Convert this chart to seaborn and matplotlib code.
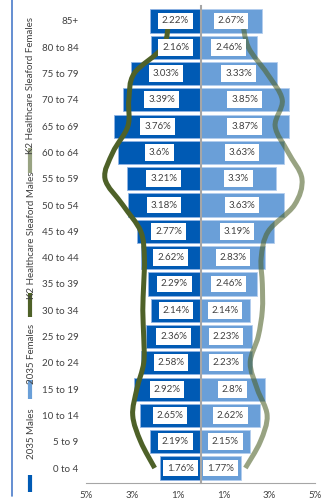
import numpy as np
import pandas as pd
import matplotlib
matplotlib.use("Agg")
import matplotlib.pyplot as plt
from matplotlib.path import Path
from matplotlib.patches import PathPatch
from matplotlib.lines import Line2D
import seaborn as sns

sns.set_style("white")
plt.rcParams["font.family"] = ["Lato", "DejaVu Sans"]

# Age bands, listed from the top of the pyramid down
ages = ["85+", "80 to 84", "75 to 79", "70 to 74", "65 to 69", "60 to 64",
        "55 to 59", "50 to 54", "45 to 49", "40 to 44", "35 to 39", "30 to 34",
        "25 to 29", "20 to 24", "15 to 19", "10 to 14", "5 to 9", "0 to 4"]

# 2035 projected population share (%)
males_2035 = [2.22, 2.16, 3.03, 3.39, 3.76, 3.6, 3.21, 3.18, 2.77,
              2.62, 2.29, 2.14, 2.36, 2.58, 2.92, 2.65, 2.19, 1.76]
females_2035 = [2.67, 2.46, 3.33, 3.85, 3.87, 3.63, 3.3, 3.63, 3.19,
                2.83, 2.46, 2.14, 2.23, 2.23, 2.8, 2.62, 2.15, 1.77]

# K2 Healthcare Sleaford practice list share (%)
k2_males = [1.39, 1.65, 2.9, 3.13, 3.17, 3.83, 4.17, 3.39, 2.61,
            2.45, 2.48, 2.52, 2.48, 2.48, 2.78, 2.96, 2.61, 2.0]
k2_females = [1.83, 2.09, 2.91, 3.57, 3.26, 3.83, 4.43, 4.1, 2.96,
              2.65, 2.7, 2.7, 2.52, 2.17, 2.48, 2.91, 2.61, 1.96]

tick_vals = [-5, -3, -1, 1, 3, 5]
tick_labels = ["5%", "3%", "1%", "1%", "3%", "5%"]

legend_entries = ["2035 Males", "2035 Females",
                  "K2 Healthcare Sleaford Males", "K2 Healthcare Sleaford Females"]

male_col = "#005AB4"
female_col = "#6A9FD8"
k2_col = "#4E6128"
text_col = "#404040"
axis_col = "#A6A6A6"

df = pd.DataFrame({"age": ages,
                   "male": [-v for v in males_2035],
                   "female": females_2035})

W, H = 331, 500
fig = plt.figure(figsize=(W / 100, H / 100), dpi=100)
ax = fig.add_axes([86 / W, 1 - 483 / H, (315 - 86) / W, (483 - 6) / H])

sns.barplot(data=df, x="male", y="age", order=ages, orient="h", color=male_col,
            width=0.88, edgecolor="#8FB3E3", linewidth=0.6, ax=ax, saturation=1)
sns.barplot(data=df, x="female", y="age", order=ages, orient="h", color=female_col,
            width=0.88, edgecolor="#B3CDEE", linewidth=0.6, ax=ax, saturation=1)

# value labels in white boxes at the middle of each bar, above the lines
for i, (m, f) in enumerate(zip(males_2035, females_2035)):
    for x, v in ((-m / 2, m), (f / 2, f)):
        ax.text(x, i, f"{v:g}%", ha="center", va="center", fontsize=7,
                color=text_col, zorder=9,
                bbox=dict(boxstyle="square,pad=0.4", fc="white", ec="none"))


def smooth_path(xs, ys):
    """Catmull-Rom style Bezier path through the given points."""
    pts = np.column_stack([xs, ys]).astype(float)
    ext = np.vstack([pts[0], pts, pts[-1]])
    verts = [pts[0]]
    codes = [Path.MOVETO]
    for i in range(len(pts) - 1):
        p0, p1, p2, p3 = ext[i], ext[i + 1], ext[i + 2], ext[i + 3]
        c1 = p1 + (p2 - p0) / 6.0
        c2 = p2 - (p3 - p1) / 6.0
        verts += [c1, c2, p2]
        codes += [Path.CURVE4] * 3
    return Path(verts, codes)


idx = np.arange(len(ages))
ax.add_patch(PathPatch(smooth_path([-v for v in k2_males], idx), fc="none",
                       ec=k2_col, lw=3.6, capstyle="butt", zorder=6))
ax.add_patch(PathPatch(smooth_path(k2_females, idx), fc="none",
                       ec=k2_col, lw=3.6, alpha=0.58, capstyle="butt", zorder=6))

ax.set_xlim(-5, 5)
ax.set_ylim(len(ages) - 1 + 0.57, -0.57)
ax.set_xlabel("")
ax.set_ylabel("")

# bottom axis
ax.set_xticks(tick_vals)
ax.set_xticklabels(tick_labels, fontsize=7, color=text_col)
ax.tick_params(axis="x", direction="in", length=3, width=0.8, color=axis_col, pad=6)

# central category axis with labels off to the left
for s in ("top", "right"):
    ax.spines[s].set_visible(False)
ax.spines["bottom"].set_color(axis_col)
ax.spines["bottom"].set_linewidth(0.8)
ax.spines["left"].set_position(("data", 0))
ax.spines["left"].set_color(axis_col)
ax.spines["left"].set_linewidth(1.5)
ax.spines["left"].set_zorder(7)
ax.set_yticks(idx)
ax.set_yticklabels(ages, fontsize=7, color=text_col)
ax.set_yticks(np.arange(len(ages) + 1) - 0.5, minor=True)
ax.tick_params(axis="y", which="major", length=0, pad=88)
ax.tick_params(axis="y", which="minor", direction="in", length=3, width=0.8,
               color=axis_col)

# legend column on the left
fig.add_artist(Line2D([12 / W, 12 / W], [1 - 0 / H, 1 - 496 / H],
                      transform=fig.transFigure, color="#4A7CC9", lw=1.2))
leg_specs = [
    (legend_entries[0], male_col, 1.0, (475, 492), 434),
    (legend_entries[1], female_col, 1.0, (380, 399), 354),
    (legend_entries[2], k2_col, 1.0, (293, 317), 235),
    (legend_entries[3], k2_col, 0.58, (148, 173), 86),
]
for label, col, alpha, (y0, y1), yc in leg_specs:
    fig.add_artist(Line2D([30 / W, 30 / W], [1 - y0 / H, 1 - y1 / H],
                          transform=fig.transFigure, color=col, alpha=alpha,
                          lw=3, solid_capstyle="butt"))
    fig.text(31 / W, 1 - yc / H, label, rotation=90, ha="center", va="center",
             fontsize=7, color=text_col)

fig.savefig("out.png", dpi=100)
